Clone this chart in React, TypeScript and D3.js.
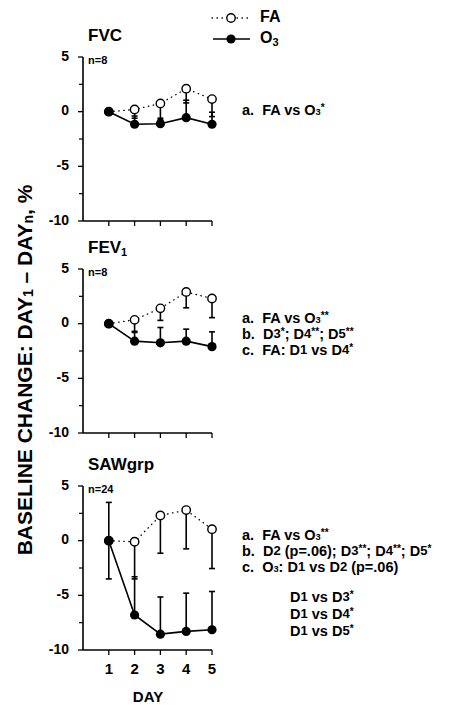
import React from "react";
import { scaleLinear, line } from "d3";

const days = [1, 2, 3, 4, 5];
const yTicks = [5, 0, -5, -10];
const yMinorTicks = [2.5, -2.5, -7.5];

// FVC
const fvcFA = [0, 0.2, 0.75, 2.1, 1.15];
const fvcFALow = [0, -0.6, -0.75, 0.8, -0.45];
const fvcO3 = [0, -1.15, -1.1, -0.55, -1.15];
const fvcO3High = [0, -0.4, -0.6, 1.05, -0.05];

// FEV1
const fev1FA = [0, 0.35, 1.4, 2.9, 2.3];
const fev1FALow = [0, -0.7, 0.3, 1.45, 0.55];
const fev1O3 = [0, -1.6, -1.75, -1.6, -2.1];
const fev1O3High = [0, -0.8, -0.35, -0.5, -0.75];

// SAWgrp
const sawFA = [0, -0.1, 2.3, 2.8, 1.05];
const sawFALow = [-3.5, -3.5, -1.15, -0.75, -2.55];
const sawO3 = [0, -6.8, -8.55, -8.3, -8.15];
const sawO3High = [3.5, -3.3, -5.15, -4.8, -4.65];

// text segments: [text, kind] kind: n normal, sub subscript, sup superscript, d small digit
type Seg = [string, string];
const fvcNotes: Seg[][] = [
  [["a.  FA vs O", "n"], ["3", "sub"], ["*", "sup"]],
];
const fev1Notes: Seg[][] = [
  [["a.  FA vs O", "n"], ["3", "sub"], ["**", "sup"]],
  [["b.  D", "n"], ["3", "d"], ["*", "sup"], ["; D", "n"], ["4", "d"], ["**", "sup"], ["; D", "n"], ["5", "d"], ["**", "sup"]],
  [["c.  FA: D", "n"], ["1", "d"], [" vs D", "n"], ["4", "d"], ["*", "sup"]],
];
const sawNotes: Seg[][] = [
  [["a.  FA vs O", "n"], ["3", "sub"], ["**", "sup"]],
  [["b.  D", "n"], ["2", "d"], [" (p=.06); D", "n"], ["3", "d"], ["**", "sup"], ["; D", "n"], ["4", "d"], ["**", "sup"], ["; D", "n"], ["5", "d"], ["*", "sup"]],
  [["c.  O", "n"], ["3", "sub"], [": D", "n"], ["1", "d"], [" vs D", "n"], ["2", "d"], [" (p=.06)", "n"]],
];
const sawExtra: Seg[][] = [
  [["D", "n"], ["1", "d"], [" vs D", "n"], ["3", "d"], ["*", "sup"]],
  [["D", "n"], ["1", "d"], [" vs D", "n"], ["4", "d"], ["*", "sup"]],
  [["D", "n"], ["1", "d"], [" vs D", "n"], ["5", "d"], ["*", "sup"]],
];

const FONT = "'Liberation Sans', Arial, Helvetica, sans-serif";

function RichText({ segs, x, y, size }: { segs: Seg[]; x: number; y: number; size: number }) {
  let cur = 0;
  const spans = segs.map(([t, k], i) => {
    let target = 0;
    let fs = size;
    if (k === "sub") { target = 2; fs = size * 0.64; }
    if (k === "sup") { target = -3; fs = size * 0.7; }
    if (k === "d") { target = 0; fs = size * 0.9; }
    const dy = target - cur;
    cur = target;
    return (
      <tspan key={i} dy={dy} fontSize={fs} fontWeight={k === "d" ? 600 : "bold"}>
        {t}
      </tspan>
    );
  });
  return (
    <text x={x} y={y} fontFamily={FONT} fontWeight="bold" fontSize={size} dominantBaseline="middle" style={{ whiteSpace: "pre" }}>
      {spans}
    </text>
  );
}

function Panel({ top, title, titleSub, n, fa, faLow, o3, o3High, notes, showDays }: any) {
  const x = scaleLinear().domain([0, 5]).range([83, 212]);
  const y = scaleLinear().domain([-10, 5]).range([top + 164, top]);
  const mk = line<number>().x((d, i) => x(days[i])).y((d) => y(d));
  return (
    <g>
      <text x={88} y={top - 20} fontFamily={FONT} fontWeight="bold" fontSize={17} dominantBaseline="middle">
        {title}
        {titleSub && <tspan fontSize={11} dy={4}>{titleSub}</tspan>}
      </text>
      <text x={88} y={top + 4} fontFamily={FONT} fontWeight="bold" fontSize={11} dominantBaseline="middle">{n}</text>
      {/* axes */}
      <line x1={x(0)} x2={x(0)} y1={y(5)} y2={y(-10)} stroke="#000" strokeWidth={1.6} />
      <line x1={x(0)} x2={x(5)} y1={y(-10)} y2={y(-10)} stroke="#000" strokeWidth={1.6} />
      {yTicks.map((t) => (
        <g key={t}>
          <line x1={x(0) - 5} x2={x(0)} y1={y(t)} y2={y(t)} stroke="#000" strokeWidth={1.3} />
          <text x={69} y={y(t)} textAnchor="end" dominantBaseline="middle" fontFamily={FONT} fontWeight="bold" fontSize={14}>{t}</text>
        </g>
      ))}
      {yMinorTicks.map((t) => (
        <line key={t} x1={x(0) - 4} x2={x(0)} y1={y(t)} y2={y(t)} stroke="#000" strokeWidth={1.2} />
      ))}
      {days.map((d) => (
        <g key={d}>
          <line x1={x(d)} x2={x(d)} y1={y(-10)} y2={y(-10) + 5} stroke="#000" strokeWidth={1.3} />
          {showDays && (
            <text x={x(d)} y={y(-10) + 20} textAnchor="middle" dominantBaseline="middle" fontFamily={FONT} fontWeight="bold" fontSize={15}>{d}</text>
          )}
        </g>
      ))}
      {/* error bars */}
      {days.map((d, i) =>
        fa[i] !== faLow[i] ? (
          <g key={"fe" + d} stroke="#000" strokeWidth={1.6}>
            <line x1={x(d)} x2={x(d)} y1={y(fa[i])} y2={y(faLow[i])} />
            <line x1={x(d) - 3} x2={x(d) + 3} y1={y(faLow[i])} y2={y(faLow[i])} />
          </g>
        ) : null
      )}
      {days.map((d, i) =>
        o3[i] !== o3High[i] ? (
          <g key={"oe" + d} stroke="#000" strokeWidth={1.6}>
            <line x1={x(d)} x2={x(d)} y1={y(o3[i])} y2={y(o3High[i])} />
            <line x1={x(d) - 3} x2={x(d) + 3} y1={y(o3High[i])} y2={y(o3High[i])} />
          </g>
        ) : null
      )}
      {/* lines */}
      <path d={mk(fa) || ""} fill="none" stroke="#000" strokeWidth={1.3} strokeDasharray="0.5 4.5" strokeLinecap="round" />
      <path d={mk(o3) || ""} fill="none" stroke="#000" strokeWidth={1.6} />
      {fa.map((v: number, i: number) => (
        <circle key={"fc" + i} cx={x(days[i])} cy={y(v)} r={4.2} fill="#fff" stroke="#000" strokeWidth={1.4} />
      ))}
      {o3.map((v: number, i: number) => (
        <circle key={"oc" + i} cx={x(days[i])} cy={y(v)} r={4.6} fill="#000" />
      ))}
      {notes.map((segs: Seg[], i: number) => (
        <RichText key={i} segs={segs} x={242} y={top + 54 + (notes.length === 1 ? 0 : -4) + i * 16} size={14.5} />
      ))}
    </g>
  );
}

export default function App() {
  return (
    <div style={{ position: "absolute", left: 0, top: 0 }}>
      <svg width={457} height={705} style={{ display: "block", background: "#fff" }}>
        {/* legend */}
        <line x1={212} x2={250} y1={18} y2={18} stroke="#000" strokeWidth={1.3} strokeDasharray="0.5 4.5" strokeLinecap="round" />
        <circle cx={231} cy={18} r={4.2} fill="#fff" stroke="#000" strokeWidth={1.4} />
        <text x={260} y={18} dominantBaseline="middle" fontFamily={FONT} fontWeight="bold" fontSize={16}>FA</text>
        <line x1={213} x2={250} y1={39} y2={39} stroke="#000" strokeWidth={1.6} />
        <circle cx={231} cy={39} r={4.6} fill="#000" />
        <text x={260} y={39} dominantBaseline="middle" fontFamily={FONT} fontWeight="bold" fontSize={16}>
          O<tspan fontSize={11} dy={4}>3</tspan>
        </text>

        <Panel top={57} title="FVC" n="n=8" fa={fvcFA} faLow={fvcFALow} o3={fvcO3} o3High={fvcO3High} notes={fvcNotes} />
        <Panel top={269} title="FEV" titleSub="1" n="n=8" fa={fev1FA} faLow={fev1FALow} o3={fev1O3} o3High={fev1O3High} notes={fev1Notes} />
        <Panel top={486} title="SAWgrp" n="n=24" fa={sawFA} faLow={sawFALow} o3={sawO3} o3High={sawO3High} notes={sawNotes} showDays />
        {sawExtra.map((segs, i) => (
          <RichText key={i} segs={segs} x={290} y={598 + i * 17} size={14.5} />
        ))}
        <text x={148} y={698} textAnchor="middle" dominantBaseline="middle" fontFamily={FONT} fontWeight="bold" fontSize={15}>DAY</text>

        {/* y label */}
        <text
          transform="translate(26,370) rotate(-90)"
          textAnchor="middle"
          dominantBaseline="middle"
          fontFamily={FONT}
          fontWeight="bold"
          fontSize={21}
          style={{ whiteSpace: "pre" }}
        >
          BASELINE CHANGE: DAY<tspan fontSize={14} dy={3}>1</tspan>
          <tspan dy={-3}> – DAY</tspan>
          <tspan fontSize={14} dy={3}>n</tspan>
          <tspan dy={-3}>, %</tspan>
        </text>
      </svg>
    </div>
  );
}
